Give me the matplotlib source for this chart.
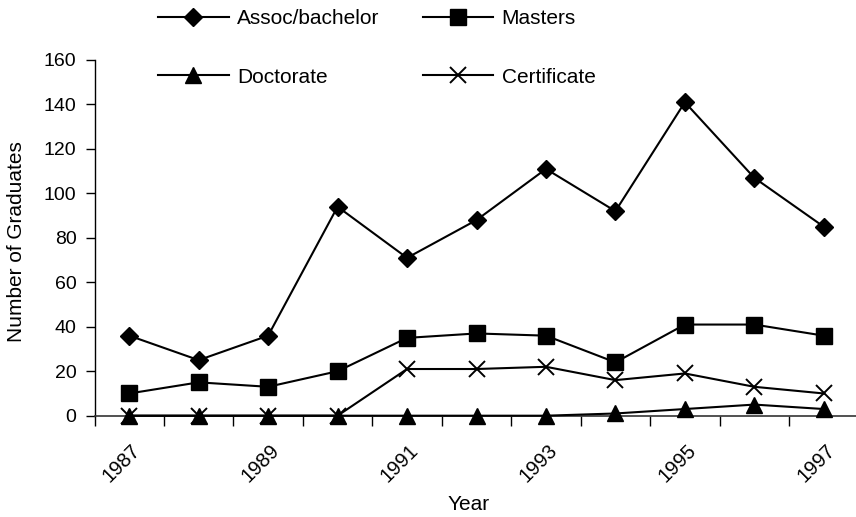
import matplotlib
matplotlib.use('Agg')
from matplotlib import pyplot as plt
from matplotlib.transforms import ScaledTranslation

years = [1987, 1988, 1989, 1990, 1991, 1992, 1993, 1994, 1995, 1996, 1997]
assoc_bachelor = [36, 25, 36, 94, 71, 88, 111, 92, 141, 107, 85]
masters = [10, 15, 13, 20, 35, 37, 36, 24, 41, 41, 36]
doctorate = [0, 0, 0, 0, 0, 0, 0, 1, 3, 5, 3]
certificate = [0, 0, 0, 0, 21, 21, 22, 16, 19, 13, 10]
labelled_years = [1987, 1989, 1991, 1993, 1995, 1997]
y_ticks = [0, 20, 40, 60, 80, 100, 120, 140, 160]

plt.rcParams['font.family'] = ['Liberation Sans', 'DejaVu Sans']

W, H = 856, 517
fig = plt.figure(figsize=(W / 100, H / 100), dpi=100)
ax = fig.add_axes([94.5 / W, 1 - 415.7 / H, 764 / W, 355.7 / H])

line_kw = dict(color='black', linewidth=1.5, clip_on=False, zorder=3)
l_assoc, = ax.plot(years, assoc_bachelor, marker='D', markersize=9, label='Assoc/bachelor', **line_kw)
l_mast, = ax.plot(years, masters, marker='s', markersize=12, label='Masters', **line_kw)
l_doc, = ax.plot(years, doctorate, marker='^', markersize=12, label='Doctorate', **line_kw)
l_cert, = ax.plot(years, certificate, marker='x', markersize=12, markeredgewidth=1.4,
                  label='Certificate', **line_kw)

ax.set_xlim(years[0] - 0.5, years[-1] + 0.5)
ax.set_ylim(0, 160)
ax.set_yticks(y_ticks)
ax.set_xticks(labelled_years)
ax.set_xticks([y - 0.5 for y in years] + [years[-1] + 0.5], minor=True)

for s in ['top', 'right']:
    ax.spines[s].set_visible(False)
ax.spines['left'].set_linewidth(1.0)
ax.spines['bottom'].set_linewidth(1.2)
ax.spines['bottom'].set_color('#333333')

ax.tick_params(axis='y', direction='out', length=6.5, width=1.0, pad=6.5, labelsize=14)
ax.tick_params(axis='x', which='major', length=0, pad=18, labelsize=14.5)
ax.tick_params(axis='x', which='minor', direction='out', length=7.2, width=1.0)

offset = ScaledTranslation(15 / 100, 0, fig.dpi_scale_trans)
for lab in ax.get_xticklabels():
    lab.set_rotation(45)
    lab.set_ha('right')
    lab.set_va('top')
    lab.set_transform(lab.get_transform() + offset)

ax.set_xlabel('Year', fontsize=15, va='center')
ax.xaxis.set_label_coords((469 - 94.5) / 764, (415.7 - 504) / 355.7)
ax.set_ylabel('Number of Graduates', fontsize=15, va='center', ha='center')
ax.yaxis.set_label_coords((17 - 94.5) / 764, (415.7 - 242) / 355.7)

fig.legend(handles=[l_assoc, l_doc, l_mast, l_cert], ncol=2, loc='upper left',
           bbox_to_anchor=(158.3 / W, 1 - 9.5 / H), frameon=False, fontsize=15,
           borderpad=0, borderaxespad=0, handlelength=3.37, handletextpad=0.4,
           columnspacing=2.1, labelspacing=1.88)

fig.savefig('out.png', dpi=100)
